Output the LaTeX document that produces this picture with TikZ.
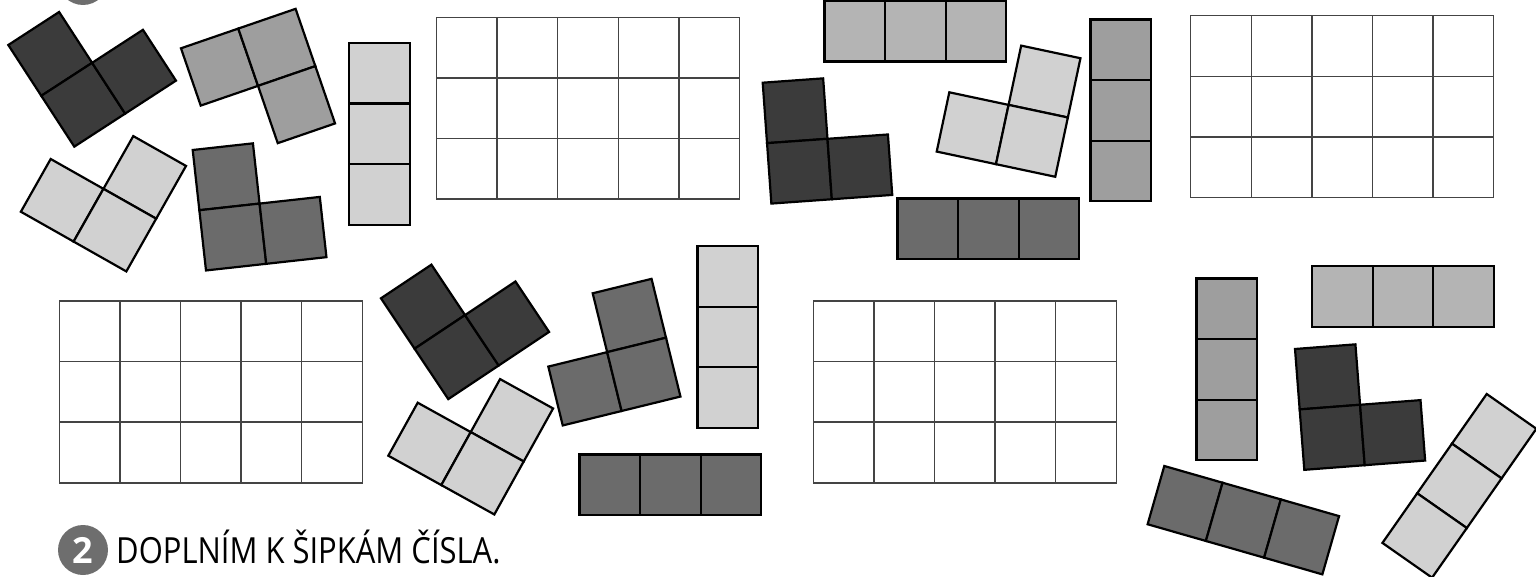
\documentclass[tikz,border=0pt]{standalone}
\usepackage{fontspec}
\setmainfont{Open Sans}
\definecolor{cA}{HTML}{3B3B3B}
\definecolor{cB}{HTML}{6B6B6B}
\definecolor{cC}{HTML}{9E9E9E}
\definecolor{cD}{HTML}{B4B4B4}
\definecolor{cE}{HTML}{D1D1D1}
\definecolor{gridgray}{HTML}{444444}
\definecolor{badge}{HTML}{6E6E6E}
\def\cs{60.6}
\tikzset{
  tilepart/.style={draw=black,line width=2.2pt,line join=miter},
  gridline/.style={draw=gridgray,line width=1.5pt},
}
\newcommand\polyomino[5]{%
  \begin{scope}[shift={(#1,#2)},rotate=#3]
    \foreach \i/\j in {#5}{\draw[tilepart,fill=#4] (\i*\cs,\j*\cs) rectangle ++(\cs,\cs);}
  \end{scope}}
\newcommand\emptygrid[2]{%
  \begin{scope}[shift={(#1,#2)}]
    \foreach \i in {0,...,4}{\foreach \j in {0,1,2}{\draw[gridline] (\i*\cs,\j*\cs) rectangle ++(\cs,\cs);}}
  \end{scope}}
\begin{document}
\begin{tikzpicture}[x=1pt,y=-1pt]
\useasboundingbox (0,0) rectangle (1536,577);
\clip (0,0) rectangle (1536,577);
% partial badge at top
\fill[badge] (83,-20) circle (25);
% grids
\emptygrid{436.5}{17.3}
\emptygrid{1190.7}{15.7}
\emptygrid{59.3}{301}
\emptygrid{813.3}{301}
% top-left group
\polyomino{8.3}{45}{33}{cA}{0/0,0/1,1/1}
\polyomino{181}{48.3}{19}{cC}{0/0,1/0,1/1}
\polyomino{349}{43}{0}{cE}{0/0,0/1,0/2}
\polyomino{50.7}{159}{-29.5}{cE}{0/0,1/-1,1/0}
\polyomino{192.7}{150}{6.3}{cB}{0/0,0/1,1/1}
% top-middle group
\polyomino{824.5}{1}{0}{cD}{0/0,1/0,2/0}
\polyomino{762.7}{82.7}{4.1}{cA}{0/0,0/1,1/1}
\polyomino{949.3}{92.3}{-12}{cE}{0/0,1/-1,1/0}
\polyomino{1090.5}{19.5}{0}{cC}{0/0,0/1,0/2}
\polyomino{897.5}{198.5}{0}{cB}{0/0,1/0,2/0}
% bottom-middle group
\polyomino{381}{298.3}{33.7}{cA}{0/0,0/1,1/1}
\polyomino{417.7}{402.7}{-29}{cE}{0/0,1/-1,1/0}
\polyomino{592.7}{293.3}{13.8}{cB}{0/0,-1/1,0/1}
\polyomino{697.5}{246}{0}{cE}{0/0,0/1,0/2}
\polyomino{579.5}{454.5}{0}{cB}{0/0,1/0,2/0}
% bottom-right group
\polyomino{1196.5}{278.5}{0}{cC}{0/0,0/1,0/2}
\polyomino{1312}{266}{0}{cD}{0/0,1/0,2/0}
\polyomino{1295}{349}{4.4}{cA}{0/0,0/1,1/1}
\polyomino{1164.3}{466}{-16}{cB}{0/0,1/0,2/0}
\polyomino{1486.7}{394}{-35}{cE}{0/0,0/1,0/2}
% task 2 heading
\fill[badge] (83,550) circle (25);
\node[font=\fontsize{36}{40}\selectfont\bfseries,text=white] (num) at (83,550) {2};
\node[anchor=base west,inner sep=0pt,font=\fontsize{36}{42}\selectfont] (title) at (116,563) {\scalebox{0.86}[1]{DOPLNÍM K ŠIPKÁM ČÍSLA.}};
\end{tikzpicture}
\end{document}
